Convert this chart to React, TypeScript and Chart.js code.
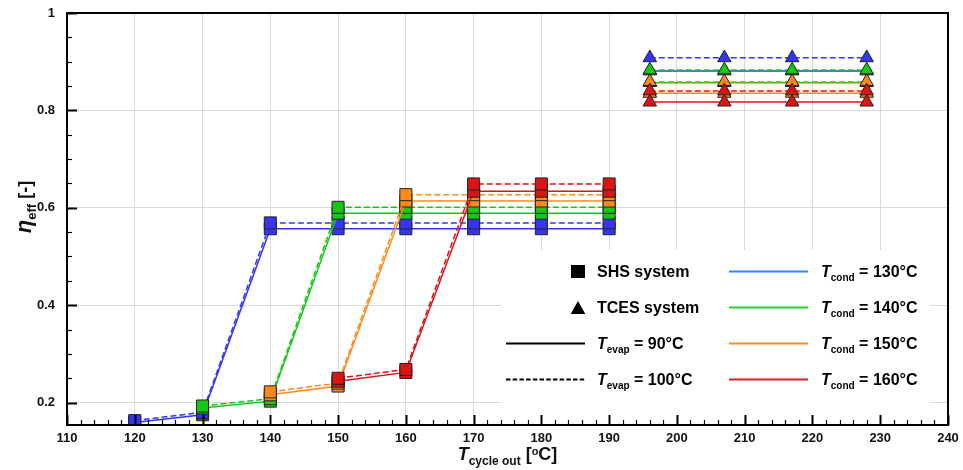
import React, { useEffect, useRef } from 'react';
import { Chart, registerables } from 'chart.js';

Chart.register(...registerables);

// ---- data ----
const shsX = [120, 130, 140, 150, 160, 170, 180, 190];
const shs130Evap90 = [0.159, 0.175, 0.557, 0.557, 0.557, 0.557, 0.557, 0.557];
const shs130Evap100 = [0.163, 0.180, 0.569, 0.569, 0.569, 0.569, 0.569, 0.569];
const shs140Evap90 = [null, 0.189, 0.203, 0.589, 0.589, 0.589, 0.589, 0.589];
const shs140Evap100 = [null, 0.193, 0.208, 0.601, 0.601, 0.601, 0.601, 0.601];
const shs150Evap90 = [null, null, 0.216, 0.234, 0.614, 0.614, 0.614, 0.614];
const shs150Evap100 = [null, null, 0.222, 0.240, 0.627, 0.627, 0.627, 0.627];
const shs160Evap90 = [null, null, null, 0.244, 0.262, 0.634, 0.634, 0.634];
const shs160Evap100 = [null, null, null, 0.250, 0.268, 0.649, 0.649, 0.649];

const tcesX = [196, 207, 217, 228];
const tces130Evap90 = [0.881, 0.881, 0.881, 0.881];
const tces130Evap100 = [0.908, 0.908, 0.908, 0.908];
const tces140Evap90 = [0.857, 0.857, 0.857, 0.857];
const tces140Evap100 = [0.883, 0.883, 0.883, 0.883];
const tces150Evap90 = [0.835, 0.835, 0.835, 0.835];
const tces150Evap100 = [0.859, 0.859, 0.859, 0.859];
const tces160Evap90 = [0.817, 0.817, 0.817, 0.817];
const tces160Evap100 = [0.840, 0.840, 0.840, 0.840];

const xTicks = [110, 120, 130, 140, 150, 160, 170, 180, 190, 200, 210, 220, 230, 240];
const yTicks = [0.2, 0.4, 0.6, 0.8, 1];
const yTickLabels = ['0.2', '0.4', '0.6', '0.8', '1'];
const condLabels = ['130', '140', '150', '160'];
const evapLabels = ['90', '100'];

const X_MIN = 110;
const X_MAX = 240;
const Y_MIN = 0.154;
const Y_MAX = 1;

// ---- styles ----
const FONT = "'Liberation Sans', Arial, Helvetica, sans-serif";
const plotColors = ['#3535f2', '#16c816', '#ff8a1c', '#dc1414'];
const legendColors = ['#2b8cff', '#2ad02a', '#ff8c2a', '#d42222'];

const conds = [
  { shs: [shs130Evap90, shs130Evap100], tces: [tces130Evap90, tces130Evap100] },
  { shs: [shs140Evap90, shs140Evap100], tces: [tces140Evap90, tces140Evap100] },
  { shs: [shs150Evap90, shs150Evap100], tces: [tces150Evap90, tces150Evap100] },
  { shs: [shs160Evap90, shs160Evap100], tces: [tces160Evap90, tces160Evap100] },
];

function toPoints(xs: number[], ys: (number | null)[]) {
  const out: { x: number; y: number }[] = [];
  xs.forEach((x, i) => {
    const y = ys[i];
    if (y !== null && y !== undefined) out.push({ x, y });
  });
  return out;
}

function buildDatasets() {
  const ds: any[] = [];
  conds.forEach((c, ci) => {
    [0, 1].forEach((ei) => {
      const common = {
        borderColor: plotColors[ci],
        backgroundColor: plotColors[ci],
        pointBackgroundColor: plotColors[ci],
        pointBorderColor: '#222',
        pointBorderWidth: 1,
        borderWidth: 1.5,
        borderDash: ei === 1 ? [6, 3] : [],
        tension: 0,
        fill: false,
        order: 100 - ci * 10 - ei,
      };
      ds.push({
        ...common,
        label: `SHS Tcond ${condLabels[ci]} Tevap ${evapLabels[ei]}`,
        data: toPoints(shsX, c.shs[ei]),
        pointStyle: 'rect',
        pointRadius: 8.5,
      });
      ds.push({
        ...common,
        label: `TCES Tcond ${condLabels[ci]} Tevap ${evapLabels[ei]}`,
        data: toPoints(tcesX, c.tces[ei]),
        pointStyle: 'triangle',
        pointRadius: 7.8,
      });
    });
  });
  return ds;
}

type Run = { t: string; font: string; dy?: number };

function runsWidth(ctx: CanvasRenderingContext2D, runs: Run[]) {
  let w = 0;
  runs.forEach((r) => {
    ctx.font = r.font;
    w += ctx.measureText(r.t).width;
  });
  return w;
}

function drawRuns(ctx: CanvasRenderingContext2D, runs: Run[], x: number, y: number, align: 'left' | 'center') {
  let cx = align === 'center' ? x - runsWidth(ctx, runs) / 2 : x;
  ctx.textAlign = 'left';
  ctx.textBaseline = 'alphabetic';
  runs.forEach((r) => {
    ctx.font = r.font;
    ctx.fillText(r.t, cx, y + (r.dy || 0));
    cx += ctx.measureText(r.t).width;
  });
}

const decorPlugin = {
  id: 'decor',
  beforeDatasetsDraw(chart: any) {
    const ctx = chart.ctx as CanvasRenderingContext2D;
    ctx.save();
    ctx.fillStyle = '#ffffff';
    ctx.fillRect(501, 250, 429, 168);
    ctx.restore();
  },
  afterDraw(chart: any) {
    const ctx = chart.ctx as CanvasRenderingContext2D;
    const xs = chart.scales.x;
    const ys = chart.scales.y;
    const { left, right, top, bottom } = chart.chartArea;
    ctx.save();
    ctx.strokeStyle = '#000';
    // bottom ticks
    for (let k = 0; k <= (X_MAX - X_MIN) / 2; k++) {
      const v = X_MIN + k * 2;
      const major = k % 5 === 0;
      const px = Math.round(xs.getPixelForValue(v)) + 0.5;
      ctx.lineWidth = major ? 2 : 1.2;
      ctx.beginPath();
      ctx.moveTo(px, bottom);
      ctx.lineTo(px, bottom - (major ? 10 : 5));
      ctx.stroke();
    }
    // left ticks
    for (let k = 0; k <= 16; k++) {
      const v = 0.2 + k * 0.05;
      if (v > Y_MAX + 1e-9) break;
      const major = k % 4 === 0;
      const py = Math.round(ys.getPixelForValue(v)) + 0.5;
      ctx.lineWidth = major ? 2 : 1.2;
      ctx.beginPath();
      ctx.moveTo(left, py);
      ctx.lineTo(left + (major ? 10 : 5), py);
      ctx.stroke();
    }
    // frame
    ctx.lineWidth = 2;
    ctx.strokeRect(left, top, right - left, bottom - top);

    ctx.fillStyle = '#111';
    // x title
    const cxTitle = (left + right) / 2;
    drawRuns(
      ctx,
      [
        { t: 'T', font: `italic bold 18px ${FONT}` },
        { t: 'cycle out', font: `bold 12px ${FONT}`, dy: 5 },
        { t: ' [', font: `bold 18px ${FONT}` },
        { t: 'o', font: `bold 11px ${FONT}`, dy: -5 },
        { t: 'C]', font: `bold 18px ${FONT}` },
      ],
      cxTitle,
      460,
      'center'
    );
    // y title
    ctx.save();
    ctx.translate(31, 207);
    ctx.rotate(-Math.PI / 2);
    drawRuns(
      ctx,
      [
        { t: 'η', font: `italic bold 22px ${FONT}` },
        { t: 'eff', font: `bold 13px ${FONT}`, dy: 5 },
        { t: ' [-]', font: `bold 18px ${FONT}` },
      ],
      0,
      0,
      'center'
    );
    ctx.restore();

    // legend
    const rowBase = [277, 313, 349, 385];
    const lineOff = 5.5;
    const big = `bold 16px ${FONT}`;
    const ital = `italic bold 16px ${FONT}`;
    const sub = `bold 10px ${FONT}`;
    ctx.fillStyle = '#000';
    ctx.fillRect(578 - 7, rowBase[0] - lineOff - 6.5, 14, 13);
    ctx.beginPath();
    ctx.moveTo(578, rowBase[1] - lineOff - 6.5);
    ctx.lineTo(578 + 7.3, rowBase[1] - lineOff + 6.5);
    ctx.lineTo(578 - 7.3, rowBase[1] - lineOff + 6.5);
    ctx.closePath();
    ctx.fill();
    ctx.strokeStyle = '#000';
    ctx.lineWidth = 2;
    ctx.beginPath();
    ctx.moveTo(506, rowBase[2] - lineOff);
    ctx.lineTo(585, rowBase[2] - lineOff);
    ctx.stroke();
    ctx.setLineDash([4.5, 2.2]);
    ctx.beginPath();
    ctx.moveTo(506, rowBase[3] - lineOff);
    ctx.lineTo(585, rowBase[3] - lineOff);
    ctx.stroke();
    ctx.setLineDash([]);
    ctx.fillStyle = '#000';
    drawRuns(ctx, [{ t: 'SHS system', font: big }], 597, rowBase[0], 'left');
    drawRuns(ctx, [{ t: 'TCES system', font: big }], 597, rowBase[1], 'left');
    evapLabels.forEach((e, i) => {
      drawRuns(
        ctx,
        [
          { t: 'T', font: ital },
          { t: 'evap', font: sub, dy: 4 },
          { t: ` = ${e}°C`, font: big },
        ],
        597,
        rowBase[2 + i],
        'left'
      );
    });
    condLabels.forEach((c, i) => {
      ctx.strokeStyle = legendColors[i];
      ctx.lineWidth = 2;
      ctx.beginPath();
      ctx.moveTo(729, rowBase[i] - lineOff);
      ctx.lineTo(808, rowBase[i] - lineOff);
      ctx.stroke();
      ctx.fillStyle = '#000';
      drawRuns(
        ctx,
        [
          { t: 'T', font: ital },
          { t: 'cond', font: sub, dy: 4 },
          { t: ` = ${c}°C`, font: big },
        ],
        821,
        rowBase[i],
        'left'
      );
    });
    ctx.restore();
  },
};

export default function App() {
  const ref = useRef<HTMLCanvasElement>(null);
  useEffect(() => {
    const canvas = ref.current;
    if (!canvas) return;
    const chart = new Chart(canvas, {
      type: 'line',
      data: { datasets: buildDatasets() },
      options: {
        animation: false,
        responsive: false,
        devicePixelRatio: 1,
        layout: { padding: { left: 0, top: 13, right: 15, bottom: 0 } },
        plugins: { legend: { display: false }, tooltip: { enabled: false }, title: { display: false } },
        scales: {
          x: {
            type: 'linear',
            min: X_MIN,
            max: X_MAX,
            afterBuildTicks: (scale: any) => {
              scale.ticks = xTicks.map((v) => ({ value: v }));
            },
            afterFit: (scale: any) => {
              scale.height = 45;
              scale.paddingLeft = 0;
              scale.paddingRight = 0;
            },
            grid: { color: '#d9d9d9', lineWidth: 1, drawTicks: false },
            border: { display: false },
            ticks: {
              padding: 6,
              maxRotation: 0,
              autoSkip: false,
              color: '#111',
              font: { family: FONT, size: 13, weight: 'bold' },
              callback: (v: any) => String(v),
            },
          },
          y: {
            type: 'linear',
            min: Y_MIN,
            max: Y_MAX,
            afterBuildTicks: (scale: any) => {
              scale.ticks = yTicks.map((v) => ({ value: v }));
            },
            afterFit: (scale: any) => {
              scale.width = 67;
              scale.paddingTop = 0;
              scale.paddingBottom = 0;
            },
            grid: { color: '#d9d9d9', lineWidth: 1, drawTicks: false },
            border: { display: false },
            ticks: {
              padding: 12,
              color: '#111',
              font: { family: FONT, size: 13, weight: 'bold' },
              callback: (v: any) => {
                const i = yTicks.indexOf(v);
                return i >= 0 ? yTickLabels[i] : '';
              },
            },
          },
        },
      } as any,
      plugins: [decorPlugin],
    });
    return () => chart.destroy();
  }, []);
  return (
    <div style={{ position: 'fixed', left: 0, top: 0, width: 963, height: 470, background: '#fff' }}>
      <canvas ref={ref} width={963} height={470} style={{ display: 'block', width: 963, height: 470 }} />
    </div>
  );
}
